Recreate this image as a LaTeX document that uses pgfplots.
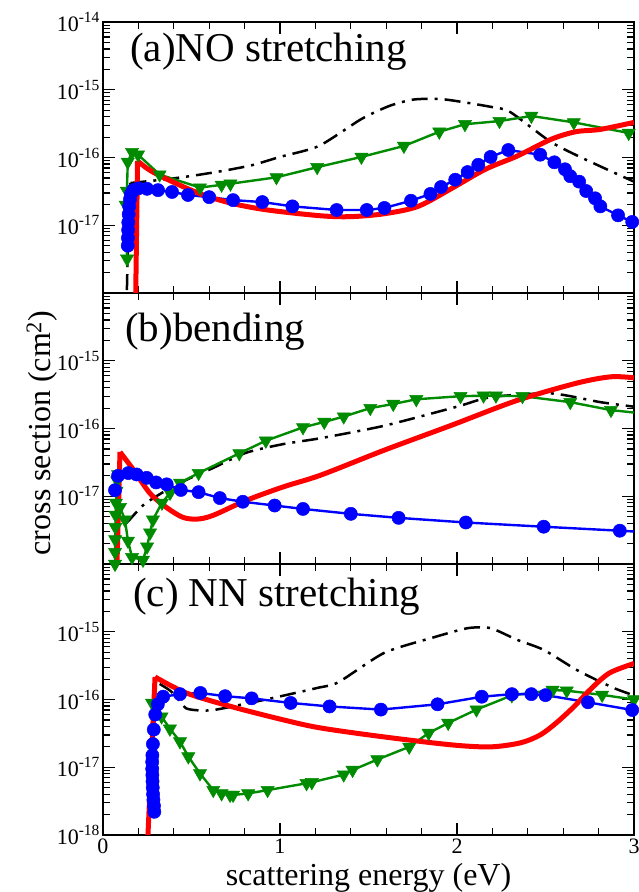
\documentclass[border=0pt]{standalone}
\usepackage{fontspec}
\setmainfont{Liberation Serif}
\usepackage{pgfplots}
\pgfplotsset{compat=1.18}
\definecolor{cblue}{RGB}{0,0,255}
\definecolor{cgreen}{RGB}{0,139,0}
\definecolor{cred}{RGB}{255,0,0}
\newcommand{\tl}[1]{10\raisebox{9pt}{\fontsize{15.5}{15.5}\selectfont -#1}}
\pgfplotsset{
 panel/.style={
  scale only axis, width=531pt, height=271pt,
  xmin=0, xmax=3, ymin=1e-18, ymax=1e-14,
  xtick={0,1,2,3}, minor x tick num=4,
  ytick={1e-18,1e-17,1e-16,1e-15,1e-14},
  tick align=inside,
  axis line style={line width=1.8pt},
  major tick length=12pt, minor tick length=7pt,
  every tick/.style={black, line width=1.2pt},
  ticklabel style={font=\fontsize{22}{22}\selectfont},
  anchor=south west,
 },
 bl/.style={cblue, line width=2.4pt, mark=*, mark size=6.6pt, mark options={solid, line width=0.5pt}},
 gr/.style={cgreen, line width=2.4pt, mark=triangle*, mark size=7.6pt, mark options={solid, rotate=180, line width=0.5pt}},
 bk/.style={black, line width=2.5pt, dash pattern=on 16pt off 7pt on 3pt off 7pt, no marks},
 rd/.style={cred, line width=5pt, no marks, line join=round},
}
\begin{document}
\begin{tikzpicture}
%%%%%%%%%%%%%%%% (c) NN stretching
\begin{semilogyaxis}[panel, at={(0pt,0pt)},
  xticklabels={0,1,2,3},
  yticklabels={\tl{18},\tl{17},\tl{16},\tl{15},}]
\addplot[bk, smooth, tension=0.4] coordinates {(0.32,1.7e-16)(0.38,1.35e-16)(0.42,1.05e-16)(0.47,7.4e-17)(0.55,6.9e-17)(0.64,7.1e-17)(0.92,1.0e-16)(1.21,1.48e-16)(1.33,1.8e-16)(1.59,4.9e-16)(1.87,8.3e-16)(2.06,1.13e-15)(2.19,1.13e-15)(2.34,7.6e-16)(2.49,5.4e-16)(2.68,2.7e-16)(2.88,1.5e-16)(3.0,1.15e-16)};
\addplot[gr] coordinates {(0.277,8.9e-17)(0.331,5.6e-17)(0.378,3.7e-17)(0.435,2.4e-17)(0.482,1.44e-17)(0.548,8.1e-18)(0.623,4.6e-18)(0.67,4.1e-18)(0.718,3.9e-18)(0.735,3.9e-18)(0.82,4.1e-18)(0.93,4.6e-18)(1.15,5.8e-18)(1.18,6.0e-18)(1.36,7.8e-18)(1.41,9.1e-18)(1.55,1.3e-17)(1.73,2.0e-17)(1.84,3.2e-17)(1.95,4.5e-17)(2.11,7.1e-17)(2.31,1.15e-16)(2.54,1.38e-16)(2.62,1.35e-16)(2.82,1.17e-16)(3.0,1.0e-16)};
\addplot[bl] coordinates {(0.29,2.2e-18)(0.288,2.7e-18)(0.285,3.3e-18)(0.283,4.0e-18)(0.281,5.0e-18)(0.28,6.2e-18)(0.279,7.7e-18)(0.278,9.5e-18)(0.278,1.2e-17)(0.279,1.5e-17)(0.282,2.2e-17)(0.287,3.6e-17)(0.295,6.0e-17)(0.31,8.5e-17)(0.34,1.1e-16)(0.435,1.2e-16)(0.55,1.25e-16)(0.69,1.12e-16)(0.84,1.04e-16)(1.06,8.9e-17)(1.28,7.9e-17)(1.57,7.1e-17)(1.89,8.5e-17)(2.14,1.1e-16)(2.31,1.2e-16)(2.42,1.2e-16)(2.50,1.16e-16)(2.74,9.1e-17)(2.99,7.0e-17)};
\addplot[rd] coordinates {(0.254,1e-18)(0.294,2.15e-16)};
\addplot[rd, smooth, tension=0.5] coordinates {(0.294,2.15e-16)(0.47,1.25e-16)(0.73,7.8e-17)(1.02,5.0e-17)(1.23,3.8e-17)(1.59,2.8e-17)(1.97,2.14e-17)(2.19,2.0e-17)(2.36,2.3e-17)(2.47,3.0e-17)(2.56,4.5e-17)(2.66,7.8e-17)(2.75,1.38e-16)(2.86,2.45e-16)(3.0,3.4e-16)};
\end{semilogyaxis}
%%%%%%%%%%%%%%%% (b) bending
\begin{semilogyaxis}[panel, at={(0pt,271pt)},
  xticklabels={},
  yticklabels={,\tl{17},\tl{16},\tl{15},}]
\addplot[bk, smooth, tension=0.4] coordinates {(0.13,4.0e-18)(0.15,4.5e-18)(0.23,7.5e-18)(0.34,1.15e-17)(0.47,1.74e-17)(0.62,2.6e-17)(0.81,4.4e-17)(1.02,5.9e-17)(1.23,7.2e-17)(1.59,1.1e-16)(2.0,2.1e-16)(2.19,2.9e-16)(2.53,3.3e-16)(2.81,2.45e-16)(3.0,2.1e-16)};
\addplot[gr] coordinates {(0.068,1.0e-18)(0.068,1.5e-18)(0.069,2.3e-18)(0.070,3.5e-18)(0.071,5.3e-18)(0.073,8.0e-18)(0.076,1.2e-17)(0.08,1.7e-17)(0.085,2.1e-17)(0.096,6.9e-18)(0.124,4.5e-18)(0.141,2.2e-18)(0.164,1.26e-18)(0.226,1.15e-18)(0.249,1.8e-18)(0.266,2.9e-18)(0.282,4.5e-18)(0.333,8.0e-18)(0.379,1.12e-17)(0.435,1.58e-17)(0.54,2.2e-17)(0.77,4.3e-17)(0.92,6.6e-17)(1.13,1.04e-16)(1.25,1.25e-16)(1.36,1.5e-16)(1.51,2.0e-16)(1.64,2.3e-16)(1.77,2.7e-16)(2.02,3.0e-16)(2.15,3.05e-16)(2.22,3.05e-16)(2.37,3.0e-16)(2.64,2.45e-16)(2.87,1.87e-16)};
\addplot[cgreen, line width=2.4pt, no marks] coordinates {(2.87,1.87e-16)(3.0,1.72e-16)};
\addplot[bl] coordinates {(0.068,1.23e-17)(0.085,2.0e-17)(0.143,2.2e-17)(0.19,2.1e-17)(0.247,1.87e-17)(0.30,1.6e-17)(0.36,1.5e-17)(0.44,1.24e-17)(0.54,1.15e-17)(0.66,9.4e-18)(0.79,8.3e-18)(0.97,7.3e-18)(1.13,6.5e-18)(1.40,5.5e-18)(1.67,4.8e-18)(2.05,4.1e-18)(2.49,3.55e-18)(2.92,3.1e-18)};
\addplot[cblue, line width=2.4pt, no marks] coordinates {(2.92,3.1e-18)(3.0,3.02e-18)};
\addplot[rd] coordinates {(0.079,1e-18)(0.096,4.5e-17)};
\addplot[rd, smooth, tension=0.5] coordinates {(0.096,4.5e-17)(0.17,2.5e-17)(0.266,1.1e-17)(0.36,6.8e-18)(0.45,4.9e-18)(0.53,4.6e-18)(0.62,5.2e-18)(0.81,8.7e-18)(1.02,1.38e-17)(1.23,2.05e-17)(1.59,4.8e-17)(1.97,1.12e-16)(2.34,2.6e-16)(2.68,4.7e-16)(2.87,5.8e-16)(3.0,5.6e-16)};
\end{semilogyaxis}
%%%%%%%%%%%%%%%% (a) NO stretching
\begin{semilogyaxis}[panel, at={(0pt,542pt)},
  xticklabels={},
  yticklabels={,\tl{17},\tl{16},\tl{15},\tl{14}}]
\addplot[bk] coordinates {(0.135,1.1e-18)(0.14,4e-18)(0.145,1.5e-17)(0.155,4.2e-17)};
\addplot[bk, smooth, tension=0.4] coordinates {(0.155,4.2e-17)(0.3,4.6e-17)(0.42,5.0e-17)(0.55,5.6e-17)(0.7,6.5e-17)(0.85,7.8e-17)(1.0,1.02e-16)(1.22,1.48e-16)(1.46,3.7e-16)(1.62,5.8e-16)(1.76,7.2e-16)(1.93,7.2e-16)(2.19,5.6e-16)(2.30,4.7e-16)(2.53,1.7e-16)(2.72,9.5e-17)(3.0,4.4e-17)};
\addplot[gr] coordinates {(0.136,3.2e-18)(0.128,2.0e-17)(0.135,3.2e-17)(0.14,8.6e-17)(0.164,1.2e-16)(0.198,1.1e-16)(0.32,5.6e-17)(0.548,3.6e-17)(0.67,3.95e-17)(0.72,4.1e-17)(0.98,5.1e-17)(1.21,7.2e-17)(1.46,1.02e-16)(1.70,1.48e-16)(1.90,2.4e-16)(2.045,3.1e-16)(2.24,3.45e-16)(2.42,4.1e-16)(2.66,3.3e-16)(2.97,2.3e-16)};
\addplot[bl] coordinates {(0.14,5.0e-18)(0.141,6.5e-18)(0.142,8.5e-18)(0.143,1.1e-17)(0.145,1.45e-17)(0.148,1.9e-17)(0.152,2.4e-17)(0.158,2.9e-17)(0.17,3.3e-17)(0.2,3.5e-17)(0.249,3.45e-17)(0.311,3.3e-17)(0.39,3.1e-17)(0.48,2.8e-17)(0.60,2.6e-17)(0.735,2.35e-17)(0.90,2.2e-17)(1.07,1.9e-17)(1.32,1.68e-17)(1.49,1.68e-17)(1.59,1.8e-17)(1.74,2.3e-17)(1.85,2.9e-17)(1.91,3.67e-17)(1.99,4.7e-17)(2.06,6.1e-17)(2.12,7.8e-17)(2.19,1.02e-16)(2.29,1.29e-16)(2.47,1.1e-16)(2.55,8.5e-17)(2.61,6.7e-17)(2.64,5.3e-17)(2.69,4.4e-17)(2.73,3.2e-17)(2.78,2.5e-17)(2.81,1.9e-17)(2.91,1.4e-17)(2.99,1.12e-17)};
\addplot[rd] coordinates {(0.185,1e-18)(0.195,8.9e-17)};
\addplot[rd, smooth, tension=0.5] coordinates {(0.195,8.9e-17)(0.26,6.6e-17)(0.36,4.8e-17)(0.55,2.9e-17)(0.73,2.1e-17)(0.93,1.68e-17)(1.23,1.38e-17)(1.40,1.34e-17)(1.59,1.48e-17)(1.78,1.9e-17)(1.97,3.5e-17)(2.16,6.7e-17)(2.34,1.05e-16)(2.53,1.85e-16)(2.67,2.4e-16)(2.81,2.6e-16)(3.0,3.3e-16)};
\end{semilogyaxis}
%%%%%%%%%%%%%%%% texts
\node[anchor=base west, inner sep=0pt, font=\fontsize{41}{41}\selectfont] at (27pt,773pt) {(a)NO stretching};
\node[anchor=base west, inner sep=0pt, font=\fontsize{41}{41}\selectfont] at (22pt,493pt) {(b)bending};
\node[anchor=base west, inner sep=0pt, font=\fontsize{41}{41}\selectfont] at (30pt,228pt) {(c) NN stretching};
\node[rotate=90, inner sep=0pt, font=\fontsize{32}{32}\selectfont] at (-61pt,402pt) {cross section (cm\textsuperscript{2})};
\node[anchor=base, inner sep=0pt, font=\fontsize{32}{32}\selectfont] at (265.5pt,-50pt) {scattering energy (eV)};
\pgfresetboundingbox
\path[use as bounding box] (-103pt,-57pt) rectangle (535pt,835pt);
\end{tikzpicture}
\end{document}
